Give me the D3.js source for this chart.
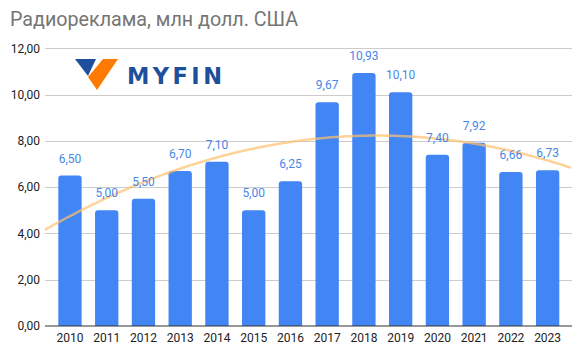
<!DOCTYPE html>
<html><head><meta charset="utf-8">
<script src="https://cdn.jsdelivr.net/npm/d3@7"></script>
<style>html,body{margin:0;padding:0;background:#fff;}svg{display:block;font-family:Roboto,Arial,sans-serif;}</style>
</head><body>
<svg id="c" width="586" height="360"></svg>
<script>
const years = ["2010","2011","2012","2013","2014","2015","2016","2017","2018","2019","2020","2021","2022","2023"];
const values = [6.50,5.00,5.50,6.70,7.10,5.00,6.25,9.67,10.93,10.10,7.40,7.92,6.66,6.73];
const yTicks = [0,2,4,6,8,10,12];
const title = "Радиореклама, млн долл. США";

const svg = d3.select("#c");
const gridL = 45, gridR = 572, plotTop = 48.3, plotBottom = 326;
const x = d3.scaleBand().domain(years).range([51.6, 566]).paddingInner(0.365).paddingOuter(0.1825);
const y = d3.scaleLinear().domain([0,12]).range([plotBottom, plotTop]);
const fmt = v => d3.format(".2f")(v).replace(".", ",");

svg.append("text").attr("x", 10).attr("y", 26).attr("font-size", 19.7).attr("fill", "#757575").text(title);

// gridlines
svg.append("g").selectAll("line").data(yTicks.filter(d=>d>0)).join("line")
  .attr("x1", gridL).attr("x2", gridR).attr("y1", d=>Math.round(y(d))+0.5).attr("y2", d=>Math.round(y(d))+0.5)
  .attr("stroke", "#cccccc").attr("stroke-width", 1);

// y tick labels
svg.append("g").selectAll("text").data(yTicks).join("text")
  .attr("x", 40).attr("y", d=>y(d)).attr("dy", "0.35em").attr("text-anchor","end")
  .attr("font-size", 12).attr("fill", "#222").text(fmt);

// logo
const logo = svg.append("g");
logo.append("path").attr("d","M75,59 L96,59 L88,76 Z").attr("fill","#1d4f9c");
logo.append("path").attr("d","M103,59 L118,59 L97,90 L88,77 Z").attr("fill","#ff7b00");
logo.append("text").attr("x",127).attr("y",83.5).attr("font-size",22.5).attr("font-weight","bold")
  .attr("fill","#1d4f9c").attr("font-family","'DejaVu Sans',Arial,sans-serif")
  .attr("textLength",95).attr("lengthAdjust","spacing").text("MYFIN");

// bars
const r = 3;
svg.append("g").selectAll("path").data(years).join("path")
  .attr("fill", "#4285f4")
  .attr("d", (d,i) => {
    const x0 = x(d), w = x.bandwidth(), y0 = y(values[i]), y1 = y(0);
    return `M${x0},${y1} L${x0},${y0+r} Q${x0},${y0} ${x0+r},${y0} L${x0+w-r},${y0} Q${x0+w},${y0} ${x0+w},${y0+r} L${x0+w},${y1} Z`;
  });

// polynomial (degree 2) trendline by least squares
const n = values.length;
const idx = d3.range(n);
const mt = d3.mean(idx);
const ts = idx.map(i => i - mt);
const St2 = d3.sum(ts, t=>t*t), St4 = d3.sum(ts, t=>t**4);
const Sy = d3.sum(values), Sty = d3.sum(ts, (t,i)=>t*values[i]), St2y = d3.sum(ts,(t,i)=>t*t*values[i]);
const b = Sty / St2;
const c = (St2y - St2*Sy/n) / (St4 - St2*St2/n);
const a = (Sy - c*St2)/n;
const step = x.step();
const c0 = x(years[0]) + x.bandwidth()/2;
const trendPts = d3.range(gridL, gridR + 0.5, 2).map(px => {
  const t = (px - c0)/step - mt;
  return [px, y(a + b*t + c*t*t)];
});
svg.append("path").attr("d", d3.line()(trendPts)).attr("fill","none")
  .attr("stroke","#ffbf6b").attr("stroke-opacity",0.7).attr("stroke-width",2.5);

// baseline
svg.append("line").attr("x1", gridL).attr("x2", gridR).attr("y1", plotBottom).attr("y2", plotBottom)
  .attr("stroke","#333").attr("stroke-width",1.2);

// value labels
svg.append("g").selectAll("text").data(years).join("text")
  .attr("x", d=>x(d)+x.bandwidth()/2).attr("y",(d,i)=>y(values[i])-13)
  .attr("text-anchor","middle").attr("font-size",12).attr("fill","#4a86e8")
  .text((d,i)=>fmt(values[i]));

// x labels
svg.append("g").selectAll("text").data(years).join("text")
  .attr("x", d=>x(d)+x.bandwidth()/2).attr("y", 342)
  .attr("text-anchor","middle").attr("font-size",12).attr("fill","#222").text(d=>d);
</script>
</body></html>
